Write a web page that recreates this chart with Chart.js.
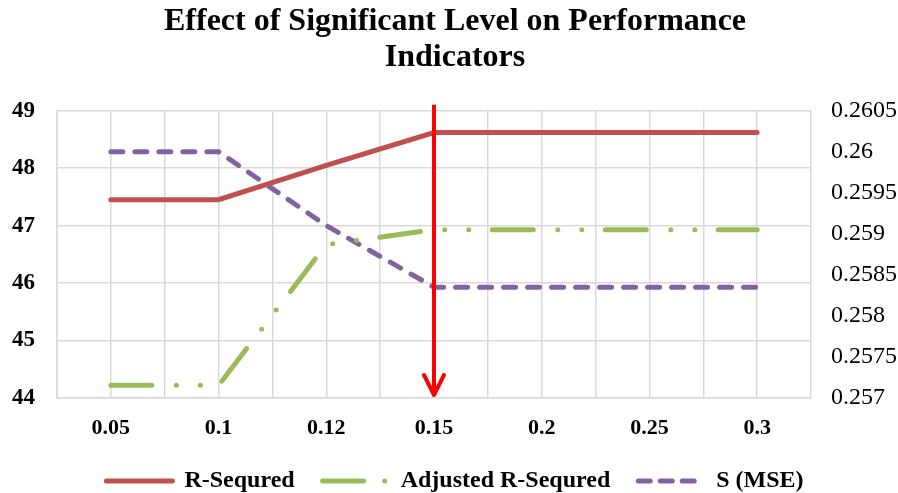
<!DOCTYPE html>
<html>
<head>
<meta charset="utf-8">
<script src="https://cdn.jsdelivr.net/npm/chart.js@4.4.1/dist/chart.umd.min.js"></script>
<style>
  html, body { margin: 0; padding: 0; background: #ffffff; }
  #wrap { width: 898px; height: 493px; }
</style>
</head>
<body>
<div id="wrap"><canvas id="c" width="898" height="493"></canvas></div>
<script>
// ---- data ----
const categories = ['0.05', '0.1', '0.12', '0.15', '0.2', '0.25', '0.3'];
const rSquared = [47.45, 47.45, 48.05, 48.62, 48.62, 48.62, 48.62];
const adjRSquared = [44.22, 44.22, 46.67, 46.93, 46.93, 46.93, 46.93];
const sMSE = [0.2600, 0.2600, 0.2591, 0.25835, 0.25835, 0.25835, 0.25835];
const leftTicks = [44, 45, 46, 47, 48, 49];
const rightTicks = [0.257, 0.2575, 0.258, 0.2585, 0.259, 0.2595, 0.26, 0.2605];
const arrowCategory = '0.15';
const titleLines = ['Effect of Significant Level on Performance', 'Indicators'];

const SERIF = "'Liberation Serif', 'Times New Roman', serif";

function toPoints(vals) {
  return vals.map((v, i) => ({ x: i + 0.5, y: v }));
}

const legendDash = {
  'R-Sequred': [],
  'Adjusted R-Sequred': [41, 21, 0, 100],
  'S (MSE)': [12, 10]
};

const arrowPlugin = {
  id: 'arrowPlugin',
  afterDatasetsDraw(chart) {
    const ctx = chart.ctx;
    const xs = chart.scales.x;
    const area = chart.chartArea;
    const x = xs.getPixelForValue(categories.indexOf(arrowCategory) + 0.5);
    const top = area.top - 6;
    const bottom = area.bottom - 3;
    ctx.save();
    ctx.strokeStyle = '#FF0000';
    ctx.lineWidth = 4;
    ctx.lineCap = 'butt';
    ctx.beginPath();
    ctx.moveTo(x, top);
    ctx.lineTo(x, bottom - 2);
    ctx.stroke();
    ctx.lineCap = 'round';
    ctx.lineJoin = 'round';
    ctx.beginPath();
    ctx.moveTo(x - 10, bottom - 20);
    ctx.lineTo(x, bottom);
    ctx.lineTo(x + 10, bottom - 20);
    ctx.stroke();
    ctx.restore();
  }
};

const ctx = document.getElementById('c').getContext('2d');
new Chart(ctx, {
  type: 'line',
  data: {
    datasets: [
      {
        label: 'R-Sequred',
        data: toPoints(rSquared),
        yAxisID: 'y',
        borderColor: '#C0504D',
        backgroundColor: '#C0504D',
        borderWidth: 5,
        borderCapStyle: 'round',
        pointRadius: 0,
        tension: 0
      },
      {
        label: 'Adjusted R-Sequred',
        data: toPoints(adjRSquared),
        yAxisID: 'y',
        borderColor: '#9BBB59',
        backgroundColor: '#9BBB59',
        borderWidth: 5,
        borderCapStyle: 'round',
        borderDash: [41, 24.5, 0, 24, 0, 23.5],
        pointRadius: 0,
        tension: 0
      },
      {
        label: 'S (MSE)',
        data: toPoints(sMSE),
        yAxisID: 'y1',
        borderColor: '#8064A2',
        backgroundColor: '#8064A2',
        borderWidth: 5,
        borderCapStyle: 'round',
        borderDash: [12, 12],
        pointRadius: 0,
        tension: 0
      }
    ]
  },
  options: {
    responsive: false,
    animation: false,
    devicePixelRatio: 1,
    layout: { padding: { left: 12, right: 0, top: 0, bottom: -10 } },
    plugins: {
      title: {
        display: true,
        text: titleLines,
        color: '#000000',
        font: { family: SERIF, size: 32, weight: 'bold', lineHeight: 1.12 },
        padding: { top: 4, bottom: 35 }
      },
      legend: {
        display: true,
        position: 'bottom',
        labels: {
          usePointStyle: true,
          pointStyle: 'line',
          pointStyleWidth: 66,
          color: '#000000',
          padding: 28,
          font: { family: SERIF, size: 24, weight: 'bold' },
          generateLabels(chart) {
            const items = Chart.defaults.plugins.legend.labels.generateLabels(chart);
            items.forEach(it => {
              it.lineDash = legendDash[it.text] || [];
              it.lineCap = 'round';
              it.lineWidth = 5;
              it.pointStyle = 'line';
            });
            return items;
          }
        }
      },
      tooltip: { enabled: false }
    },
    scales: {
      x: {
        type: 'linear',
        min: 0,
        max: categories.length,
        afterBuildTicks(axis) {
          const t = [];
          for (let i = 0; i <= categories.length * 2; i++) t.push({ value: i / 2 });
          axis.ticks = t;
        },
        afterFit(axis) { axis.height = 43; },
        ticks: {
          autoSkip: false,
          maxRotation: 0,
          padding: 17,
          color: '#000000',
          font: { family: SERIF, size: 22, weight: 'bold' },
          callback(v) {
            const idx = v - 0.5;
            return Number.isInteger(idx) && categories[idx] !== undefined ? categories[idx] : '';
          }
        },
        grid: { color: '#D9D9D9', lineWidth: 1.5, drawTicks: false },
        border: { display: true, color: '#D9D9D9', width: 1.5 }
      },
      y: {
        type: 'linear',
        position: 'left',
        min: leftTicks[0],
        max: leftTicks[leftTicks.length - 1],
        afterBuildTicks(axis) { axis.ticks = leftTicks.map(v => ({ value: v })); },
        afterFit(axis) { axis.width = 45; },
        ticks: {
          padding: 22,
          color: '#000000',
          font: { family: SERIF, size: 23, weight: 'bold' }
        },
        grid: { color: '#D9D9D9', lineWidth: 1.5, drawTicks: false },
        border: { display: true, color: '#D9D9D9', width: 1.5 }
      },
      y1: {
        type: 'linear',
        position: 'right',
        min: rightTicks[0],
        max: rightTicks[rightTicks.length - 1],
        afterBuildTicks(axis) { axis.ticks = rightTicks.map(v => ({ value: v })); },
        afterFit(axis) { axis.width = 87; },
        ticks: {
          padding: 20,
          color: '#000000',
          font: { family: SERIF, size: 24 },
          callback(v) { return String(parseFloat(Number(v).toFixed(5))); }
        },
        grid: { display: false, drawTicks: false },
        border: { display: false }
      }
    }
  },
  plugins: [arrowPlugin]
});
</script>
</body>
</html>
